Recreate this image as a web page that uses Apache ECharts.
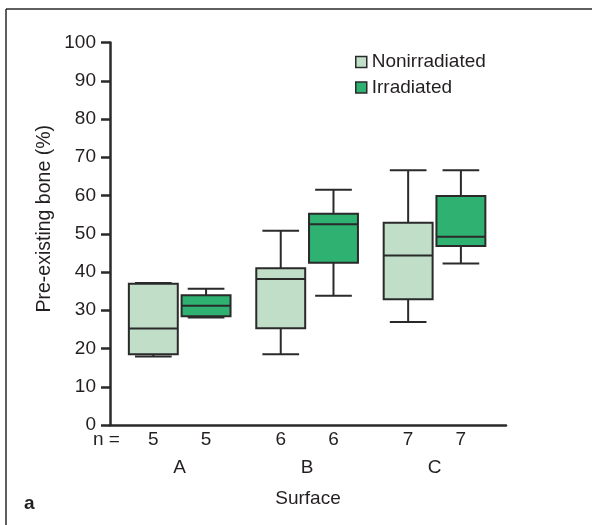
<!DOCTYPE html>
<html>
<head>
<meta charset="utf-8">
<script src="https://cdn.jsdelivr.net/npm/echarts@6/dist/echarts.min.js"></script>
<style>
  html, body { margin: 0; padding: 0; background: #fff; }
  #main { width: 592px; height: 525px; }
</style>
</head>
<body>
<div id="main"></div>
<script>
'use strict';

// Box plot - pre-existing bone per surface
// --------------------------------------------------------------------
const categories = ['A', 'B', 'C'];
const seriesNames = ['Nonirradiated', 'Irradiated'];
const nNonirradiated = [5, 6, 7];
const nIrradiated = [5, 6, 7];
// [min, Q1, median, Q3, max]
const nonirradiated = [
  [17.9, 18.5, 25.2, 36.9, 37.1],
  [18.5, 25.3, 38.2, 41.0, 50.8],
  [26.9, 32.9, 44.3, 52.9, 66.6]
];
const irradiated = [
  [28.1, 28.4, 31.2, 33.9, 35.6],
  [33.8, 42.4, 52.5, 55.2, 61.5],
  [42.2, 46.8, 49.2, 59.9, 66.6]
];
const yTicks = { min: 0, max: 100, step: 10 };

const textColor = '#231f20';
const lineColor = '#2a2a2a';
const fontFamily = "'Liberation Sans', Arial, sans-serif";
const lightGreen = '#c1dfc8';
const darkGreen = '#2eb171';

function boxRenderer(offset, fill) {
  return function (params, api) {
    const x = api.value(0);
    const unit = api.size([1, 0])[0];
    const cx = api.coord([x, 0])[0] + offset * unit;
    const y0 = api.coord([x, 0])[1];
    const hw = 0.192 * unit;
    const cw = 0.144 * unit;
    const yMin = api.coord([x, api.value(1)])[1];
    const yQ1 = api.coord([x, api.value(2)])[1];
    const yMed = api.coord([x, api.value(3)])[1];
    const yQ3 = api.coord([x, api.value(4)])[1];
    const yMax = api.coord([x, api.value(5)])[1];
    const stroke = { stroke: lineColor, lineWidth: 2 };
    return {
      type: 'group',
      children: [
        { type: 'line', shape: { x1: cx, y1: yMax, x2: cx, y2: yQ3 }, style: stroke },
        { type: 'line', shape: { x1: cx, y1: yQ1, x2: cx, y2: yMin }, style: stroke },
        { type: 'line', shape: { x1: cx - cw, y1: yMax, x2: cx + cw, y2: yMax }, style: stroke },
        { type: 'line', shape: { x1: cx - cw, y1: yMin, x2: cx + cw, y2: yMin }, style: stroke },
        {
          type: 'rect',
          shape: { x: cx - hw, y: yQ3, width: hw * 2, height: yQ1 - yQ3 },
          style: { fill: fill, stroke: lineColor, lineWidth: 2 }
        },
        { type: 'line', shape: { x1: cx - hw, y1: yMed, x2: cx + hw, y2: yMed }, style: stroke },
        {
          type: 'text',
          style: {
            x: cx, y: y0 + 15, text: String(api.value(6)),
            align: 'center', verticalAlign: 'middle',
            fill: textColor, fontSize: 19, fontFamily: fontFamily
          }
        }
      ]
    };
  };
}

const chart = echarts.init(document.getElementById('main'));

const option = {
  animation: false,
  grid: { left: 110, top: 42.5, right: 86, bottom: 100 },
  legend: {
    data: seriesNames,
    orient: 'vertical',
    left: 355,
    top: 52,
    padding: 0,
    itemGap: 5.5,
    itemWidth: 11,
    itemHeight: 11,
    icon: 'rect',
    itemStyle: { borderColor: lineColor, borderWidth: 1.5 },
    textStyle: { color: textColor, fontSize: 19, lineHeight: 20, fontFamily: fontFamily }
  },
  xAxis: {
    type: 'value',
    min: -0.547,
    max: 2.561,
    name: 'Surface',
    nameLocation: 'middle',
    nameGap: 64,
    nameTextStyle: { color: textColor, fontSize: 19, fontFamily: fontFamily },
    axisLine: { onZero: false, lineStyle: { color: lineColor, width: 2.5 } },
    axisTick: { show: false },
    axisLabel: { show: false },
    splitLine: { show: false }
  },
  yAxis: {
    type: 'value',
    min: yTicks.min,
    max: yTicks.max,
    interval: yTicks.step,
    name: 'Pre-existing bone (%)',
    nameLocation: 'middle',
    nameGap: 55,
    nameMoveOverlap: false,
    nameTextStyle: { color: textColor, fontSize: 19.5, fontFamily: fontFamily, padding: [0, 0, 0, 30] },
    axisLine: { show: true, onZero: false, lineStyle: { color: lineColor, width: 2.5 } },
    axisTick: { show: true, length: 9, lineStyle: { color: lineColor, width: 2.5 } },
    axisLabel: { color: textColor, fontSize: 19, margin: 14, fontFamily: fontFamily },
    splitLine: { show: false }
  },
  graphic: [
    { type: 'line', shape: { x1: 6, y1: 9, x2: 592, y2: 9 }, style: { stroke: lineColor, lineWidth: 1.5 } },
    { type: 'line', shape: { x1: 6, y1: 9, x2: 6, y2: 525 }, style: { stroke: lineColor, lineWidth: 1.5 } },
    {
      type: 'text', left: 93, top: 430,
      style: { text: 'n =', fill: textColor, fontSize: 19, fontFamily: fontFamily }
    },
    {
      type: 'text', left: 24, top: 494,
      style: { text: 'a', fill: textColor, fontSize: 19, fontWeight: 'bold', fontFamily: fontFamily }
    }
  ],
  series: [
    {
      name: seriesNames[0],
      type: 'custom',
      itemStyle: { color: lightGreen },
      clip: false,
      encode: { x: 0, y: [1, 2, 3, 4, 5] },
      renderItem: boxRenderer(-0.207, lightGreen),
      data: nonirradiated.map(function (d, i) { return [i].concat(d, [nNonirradiated[i]]); })
    },
    {
      name: seriesNames[1],
      type: 'custom',
      itemStyle: { color: darkGreen },
      clip: false,
      encode: { x: 0, y: [1, 2, 3, 4, 5] },
      renderItem: boxRenderer(0.207, darkGreen),
      data: irradiated.map(function (d, i) { return [i].concat(d, [nIrradiated[i]]); })
    },
    {
      name: 'categories',
      type: 'custom',
      silent: true,
      clip: false,
      encode: { x: 0, y: 1 },
      renderItem: function (params, api) {
        const p = api.coord([api.value(0), 0]);
        return {
          type: 'text',
          style: {
            x: p[0], y: p[1] + 43, text: categories[api.value(0)],
            align: 'center', verticalAlign: 'middle',
            fill: textColor, fontSize: 19, fontFamily: fontFamily
          }
        };
      },
      data: categories.map(function (c, i) { return [i, 0]; })
    }
  ]
};

chart.setOption(option);
window.addEventListener('resize', chart.resize);
</script>
</body>
</html>
